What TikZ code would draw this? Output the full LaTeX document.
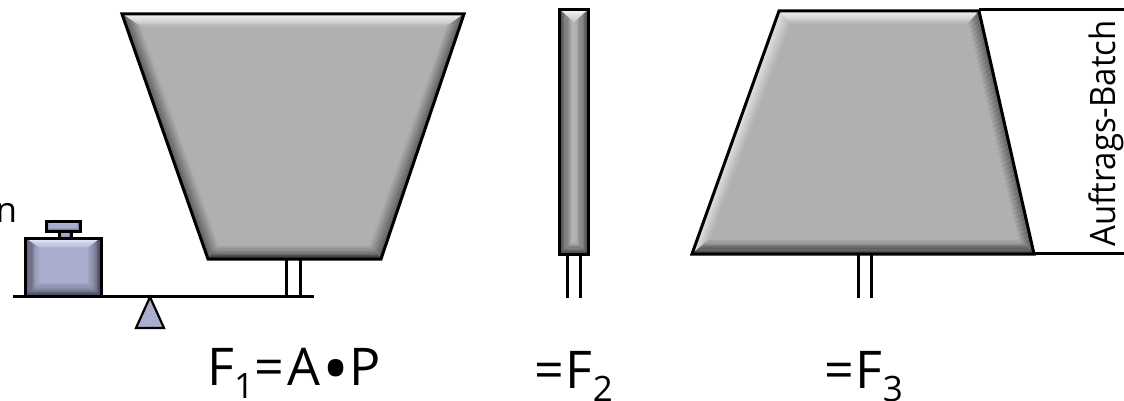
\documentclass[tikz,border=0pt]{standalone}
\usepackage{fontspec}
\setmainfont{Open Sans}
\usetikzlibrary{calc}
\definecolor{grayface}{HTML}{B0B0B0}
\definecolor{grayedge}{HTML}{585858}
\definecolor{graydark}{HTML}{303030}
\definecolor{graybar}{HTML}{4C4C4C}
\definecolor{baymid}{HTML}{BEBEBE}
\definecolor{graylight}{HTML}{F6F6F6}
\definecolor{graysoft}{HTML}{E4E4E4}
\definecolor{blueface}{HTML}{A9ADCE}
\definecolor{blueedge}{HTML}{45465A}
\definecolor{bluelight}{HTML}{ECEEFF}
\tikzset{
  inkline/.style={draw=black,line width=3pt,line cap=butt},
  outline/.style={draw=black,line width=3pt,line join=miter},
  biglabel/.style={font=\fontsize{52}{52}\selectfont,anchor=base west,inner sep=0pt},
  smalllabel/.style={font=\fontsize{35}{35}\selectfont,inner sep=0pt},
}
\newcommand{\subnum}[1]{\raisebox{-13pt}{\fontsize{35}{35}\selectfont #1}}
% one bevelled face: outer edge #1--#2, inner edge #3--#4, colour #5 to #6
\newcommand{\bevelface}[6]{%
  \foreach \i [evaluate=\i as \u using {\i/12}, evaluate=\i as \v using {(\i+1)/12}, evaluate=\i as \p using {100-\i*100/12}] in {0,...,11}{
    \fill[#5!\p!#6,draw=#5!\p!#6,line width=.3pt]
      ($(#1)!\u!(#4)$) -- ($(#2)!\u!(#3)$) -- ($(#2)!\v!(#3)$) -- ($(#1)!\v!(#4)$) -- cycle;
  }
}
% #1 prefix, #2 face, #3 top, #4 right, #5 bottom, #6 left
\newcommand{\bevelbody}[6]{%
  \fill[#2] (#1a) -- (#1b) -- (#1c) -- (#1d) -- cycle;
  \bevelface{#1A}{#1B}{#1b}{#1a}{#3}{#2}
  \bevelface{#1B}{#1C}{#1c}{#1b}{#4}{#2}
  \bevelface{#1D}{#1A}{#1a}{#1d}{#6}{#2}
  \bevelface{#1C}{#1D}{#1d}{#1c}{#5}{#2}
  \draw[outline] (#1A) -- (#1B) -- (#1C) -- (#1D) -- cycle;
}
\begin{document}
\begin{tikzpicture}[x=1pt,y=-1pt]
\useasboundingbox (0,0) rectangle (1124,401);

% large trapezoid 1
\coordinate (pA) at (122,14); \coordinate (pB) at (464,14);
\coordinate (pC) at (381,259); \coordinate (pD) at (208,259);
\coordinate (pa) at (141,27); \coordinate (pb) at (446,27);
\coordinate (pc) at (369,246); \coordinate (pd) at (219,246);
\bevelbody{p}{grayface}{graylight}{grayedge}{graydark}{grayedge}

% narrow bar
\coordinate (qA) at (559.5,9.5); \coordinate (qB) at (588.5,9.5);
\coordinate (qC) at (588.5,254.5); \coordinate (qD) at (559.5,254.5);
\coordinate (qa) at (574,23); \coordinate (qb) at (574,23);
\coordinate (qc) at (574,242); \coordinate (qd) at (574,242);
\bevelbody{q}{baymid}{graylight}{graybar}{graydark}{graybar}

% trapezoid 3
\coordinate (rA) at (779,11); \coordinate (rB) at (979,11);
\coordinate (rC) at (1034,254); \coordinate (rD) at (692,254);
\coordinate (ra) at (790,24); \coordinate (rb) at (968,24);
\coordinate (rc) at (1018,240); \coordinate (rd) at (709,240);
\bevelbody{r}{grayface}{graylight}{grayedge}{graydark}{graysoft}

% weight
\coordinate (wA) at (25,238); \coordinate (wB) at (101,238);
\coordinate (wC) at (101,296); \coordinate (wD) at (25,296);
\coordinate (wa) at (39,248); \coordinate (wb) at (88,248);
\coordinate (wc) at (88,283); \coordinate (wd) at (39,283);
\bevelbody{w}{blueface}{bluelight}{blueedge}{blueedge}{blueedge}
\coordinate (nA) at (59,231); \coordinate (nB) at (71,231);
\coordinate (nC) at (71,238); \coordinate (nD) at (59,238);
\coordinate (na) at (62,233); \coordinate (nb) at (68,233);
\coordinate (nc) at (68,236); \coordinate (nd) at (62,236);
\bevelbody{n}{blueface}{bluelight}{blueedge}{blueedge}{blueedge}
\coordinate (hA) at (46,221); \coordinate (hB) at (80,221);
\coordinate (hC) at (80,231); \coordinate (hD) at (46,231);
\coordinate (ha) at (49,224); \coordinate (hb) at (77,224);
\coordinate (hc) at (77,228); \coordinate (hd) at (49,228);
\bevelbody{h}{blueface}{bluelight}{blueedge}{blueedge}{blueedge}

% beam and fulcrum
\coordinate (beamL) at (13,296.5); \coordinate (beamR) at (314,296.5);
\draw[inkline] (beamL) -- (beamR);
\coordinate (tip) at (150,297); \coordinate (tl) at (136,328); \coordinate (tr) at (164,328);
\fill[blueface,draw=black,line width=2.2pt,line join=miter] (tip) -- (tr) -- (tl) -- cycle;

% stems
\foreach \nm/\xa/\ya/\yb in {s1/286.5/259/296,s2/300/259/296,s3/567.5/255/298,s4/580.5/255/298,s5/858/255/298,s6/871/255/298}{
  \coordinate (\nm t) at (\xa,\ya); \coordinate (\nm b) at (\xa,\yb);
  \draw[inkline] (\nm t) -- (\nm b);
}

% dimension lines
\coordinate (topEnd) at (1124,10); \coordinate (botEnd) at (1124,253.5);
\draw[inkline] (rB |- topEnd) -- (topEnd);
\draw[inkline] (rC |- botEnd) -- (botEnd);

% labels
\node[smalllabel,anchor=base west] (frag) at (-4.5,222) {n};
\node[smalllabel,rotate=90,anchor=base] (batch) at (1115,133.5) {\scalebox{0.94}[1]{Auftrags-Batch}};
\node[biglabel] (f1) at (207,385) {F\subnum{1}=\kern4pt A\kern1.5pt\raisebox{-9pt}{\fontsize{72}{72}\selectfont•}\kern0.5pt P};
\node[biglabel] (f2) at (534,388) {=\kern2pt F\subnum{2}};
\node[biglabel] (f3) at (824,388) {=\kern2pt F\subnum{3}};
\end{tikzpicture}
\end{document}
